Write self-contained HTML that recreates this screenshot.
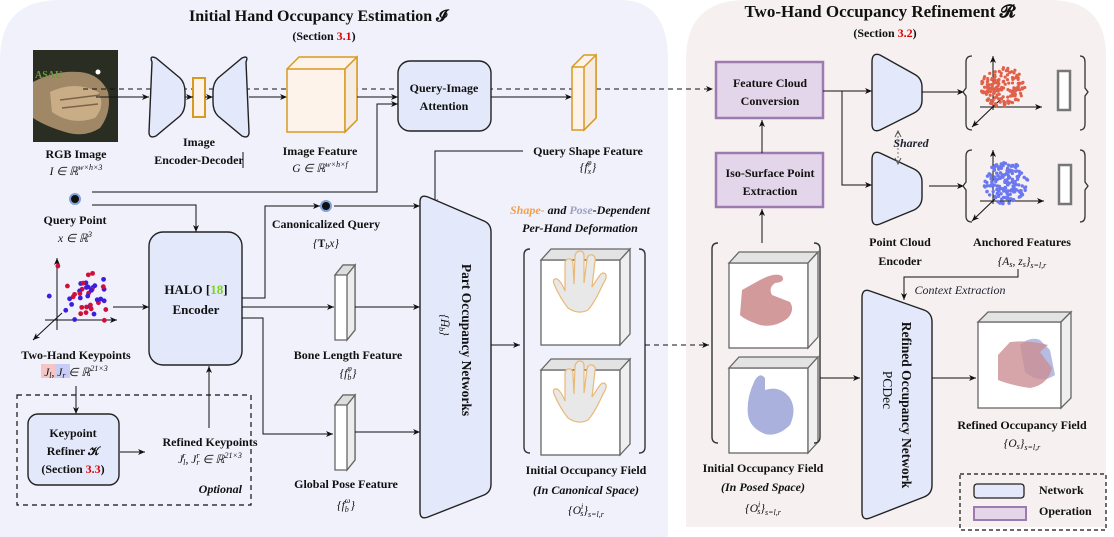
<!DOCTYPE html>
<html><head><meta charset="utf-8"><style>
html,body{margin:0;padding:0;background:#fff}
svg{display:block}
text{font-family:"Liberation Serif",serif;fill:#111}
.b{font-weight:bold;font-size:12px}
.m{font-size:11.5px;font-style:italic}
.it{font-style:italic;font-size:12px}
</style></head><body>
<svg width="1114" height="537" viewBox="0 0 1114 537" xmlns="http://www.w3.org/2000/svg">
<defs>
<marker id="a" markerWidth="8" markerHeight="8" refX="7" refY="4" orient="auto" markerUnits="userSpaceOnUse"><path d="M0,1 L7,4 L0,7 L2,4z" fill="#111"/></marker>
</defs>
<path d="M60,0 H620 Q668,0 668,60 V537 H0 V60 Q0,0 60,0z" fill="#f0f1fb"/>
<path d="M746,0 H1050 Q1106,0 1106,56 V527 H686 V60 Q686,0 746,0z" fill="#f6f0f0"/>

<text x="318" y="21" text-anchor="middle" style="font-weight:bold;font-size:16px">Initial Hand Occupancy Estimation 𝓘</text>
<text x="324" y="40" text-anchor="middle" class="b">(Section <tspan fill="#d00">3.1</tspan>)</text>
<text x="880" y="17" text-anchor="middle" style="font-weight:bold;font-size:17px">Two-Hand Occupancy Refinement 𝓡</text>
<text x="885" y="37" text-anchor="middle" class="b">(Section <tspan fill="#d00">3.2</tspan>)</text>

<!-- RGB image -->
<rect x="33" y="50" width="85" height="92" fill="#2a2d22"/>
<path d="M33,82 Q55,70 80,72 Q100,74 108,92 Q112,112 100,128 Q85,138 65,132 Q45,126 33,118z" fill="#a08866"/>
<path d="M50,92 Q75,80 98,92 Q106,105 95,118 Q72,126 52,112z" fill="#c8ad86"/>
<path d="M60,100 L100,95 M62,108 L98,104" stroke="#7a6448" stroke-width="1.5"/>
<text x="35" y="78" style="font-size:10px;font-weight:bold;fill:#6f9a40">ASAU</text>
<circle cx="98" cy="72" r="2.5" fill="#fff"/>
<text x="76" y="158" text-anchor="middle" class="b">RGB Image</text>
<text x="76" y="175" text-anchor="middle" class="m">I ∈ ℝ<tspan dy="-5" font-size="8">w×h×3</tspan></text>

<line x1="83" y1="89" x2="713" y2="89" stroke="#111" stroke-dasharray="5,4" marker-end="url(#a)"/>
<path d="M152,62 Q149,55 156,58 L180,78 Q185,83 185,92 V102 Q185,111 180,116 L156,136 Q149,139 149,132 z" fill="#e3e9fa" stroke="#222" stroke-width="1.4"/>
<rect x="193" y="78" width="12" height="39" fill="#fdf3ea" stroke="#d99a20" stroke-width="2"/>
<path d="M246,62 Q249,55 242,58 L218,78 Q213,83 213,92 V102 Q213,111 218,116 L242,136 Q249,139 249,132 z" fill="#e3e9fa" stroke="#222" stroke-width="1.4"/>
<line x1="96" y1="97" x2="149" y2="97" stroke="#111" marker-end="url(#a)"/>
<line x1="185" y1="97" x2="193" y2="97" stroke="#111" marker-end="url(#a)"/>
<line x1="205" y1="97" x2="213" y2="97" stroke="#111" marker-end="url(#a)"/>
<line x1="249" y1="97" x2="287" y2="97" stroke="#111" marker-end="url(#a)"/>
<text x="199" y="146" text-anchor="middle" class="b">Image</text>
<text x="199" y="164" text-anchor="middle" class="b">Encoder-Decoder</text>
<line x1="243" y1="152" x2="243" y2="168" stroke="#111"/>
<path d="M287,69 L299,57 H357 V120 L345,132 H287z" fill="#fdf3ea" stroke="#d99a20" stroke-width="1.5"/>
<path d="M287,69 H345 L357,57 M345,69 V132" fill="none" stroke="#d99a20" stroke-width="1.5"/>
<path d="M345,69 L357,57 V120 L345,132z" fill="#f5ebe2" stroke="#d99a20" stroke-width="1.5"/>
<text x="320" y="155" text-anchor="middle" class="b">Image Feature</text>
<text x="320" y="172" text-anchor="middle" class="m">G ∈ ℝ<tspan dy="-5" font-size="8">w×h×f</tspan></text>
<line x1="357" y1="97" x2="398" y2="97" stroke="#111" marker-end="url(#a)"/>
<rect x="398" y="61" width="93" height="70" rx="12" fill="#e3e9fa" stroke="#222" stroke-width="1.4"/>
<text x="444" y="92" text-anchor="middle" class="b">Query-Image</text>
<text x="444" y="110" text-anchor="middle" class="b">Attention</text>
<line x1="491" y1="97" x2="572" y2="97" stroke="#111" marker-end="url(#a)"/>
<path d="M572,67 L584,55 H596 V118 L584,130 H572z" fill="#fdf3ea" stroke="#d99a20" stroke-width="1.5"/>
<path d="M584,67 L596,55 V118 L584,130z M572,67 H584" fill="#f5ebe2" stroke="#d99a20" stroke-width="1.5"/>
<text x="588" y="155" text-anchor="middle" class="b">Query Shape Feature</text>
<text x="588" y="171" text-anchor="middle" class="m">{f<tspan dy="3" font-size="8">x</tspan><tspan dx="-4" dy="-9" font-size="8">φ</tspan><tspan dy="6">}</tspan></text>
<polyline points="523,151 435,151 435,206" fill="none" stroke="#111" marker-end="url(#a)"/>

<circle cx="75" cy="199" r="5" fill="#111" stroke="#7fa3d8" stroke-width="2"/>
<text x="75" y="224" text-anchor="middle" class="b">Query Point</text>
<text x="75" y="242" text-anchor="middle" class="m">x ∈ ℝ<tspan dy="-5" font-size="8">3</tspan></text>
<polyline points="92,192 377,192 377,104 398,104" fill="none" stroke="#111" marker-end="url(#a)"/>
<polyline points="92,205 196,205 196,232" fill="none" stroke="#111" marker-end="url(#a)"/>

<g stroke="#111" fill="none">
<line x1="57" y1="330" x2="57" y2="258" marker-end="url(#a)"/>
<line x1="45" y1="320" x2="117" y2="320" marker-end="url(#a)"/>
<line x1="62" y1="313" x2="33" y2="340" marker-end="url(#a)"/>
</g>
<g id="kp"></g>
<text x="76" y="359" text-anchor="middle" class="b">Two-Hand Keypoints</text>
<rect x="41" y="364" width="14" height="14" fill="#f6c6c6"/>
<rect x="55" y="364" width="15" height="14" fill="#c9cdf5"/>
<text x="76" y="376" text-anchor="middle" class="m">J<tspan font-size="8" dy="2">l</tspan><tspan dy="-2">, J</tspan><tspan font-size="8" dy="2">r</tspan><tspan dy="-2"> ∈ ℝ</tspan><tspan dy="-5" font-size="8">21×3</tspan></text>
<line x1="113" y1="307" x2="149" y2="307" stroke="#111" marker-end="url(#a)"/>

<rect x="149" y="232" width="93" height="133" rx="14" fill="#e3e9fa" stroke="#222" stroke-width="1.4"/>
<text x="196" y="294" text-anchor="middle" style="font-weight:bold;font-size:13px">HALO [<tspan fill="#7cd320">18</tspan>]</text>
<text x="196" y="314" text-anchor="middle" style="font-weight:bold;font-size:13px">Encoder</text>

<rect x="17" y="395" width="234" height="110" fill="none" stroke="#111" stroke-dasharray="5,4" stroke-width="1.2"/>
<line x1="76" y1="386" x2="76" y2="414" stroke="#111" marker-end="url(#a)"/>
<rect x="28" y="414" width="91" height="71" rx="10" fill="#e3e9fa" stroke="#222" stroke-width="1.4"/>
<text x="73" y="437" text-anchor="middle" class="b">Keypoint</text>
<text x="73" y="455" text-anchor="middle" class="b">Refiner 𝒦</text>
<text x="73" y="473" text-anchor="middle" class="b">(Section <tspan fill="#d00">3.3</tspan>)</text>
<line x1="120" y1="452" x2="145" y2="452" stroke="#111" marker-end="url(#a)"/>
<text x="210" y="446" text-anchor="middle" class="b">Refined Keypoints</text>
<text x="210" y="463" text-anchor="middle" class="m">J<tspan font-size="8" dy="2">l</tspan><tspan font-size="8" dx="-3" dy="-7">r</tspan><tspan dy="5">, J</tspan><tspan font-size="8" dy="2">r</tspan><tspan font-size="8" dx="-3" dy="-7">r</tspan><tspan dy="5"> ∈ ℝ</tspan><tspan dy="-5" font-size="8">21×3</tspan></text>
<line x1="209" y1="428" x2="209" y2="366" stroke="#111" marker-end="url(#a)"/>
<text x="242" y="493" text-anchor="end" class="it" style="font-weight:bold">Optional</text>

<polyline points="242,298 265,298 265,206 320,206" fill="none" stroke="#111" marker-end="url(#a)"/>
<circle cx="326" cy="206" r="5" fill="#111" stroke="#7fa3d8" stroke-width="2"/>
<line x1="334" y1="206" x2="420" y2="206" stroke="#111" marker-end="url(#a)"/>
<text x="326" y="228" text-anchor="middle" class="b">Canonicalized Query</text>
<text x="326" y="247" text-anchor="middle" class="m">{<tspan font-weight="bold" font-style="normal">T</tspan><tspan font-size="8" dy="2">b</tspan><tspan dy="-2">x}</tspan></text>
<line x1="242" y1="307" x2="334" y2="307" stroke="#111" marker-end="url(#a)"/>
<g stroke="#666" stroke-width="1.3">
<path d="M335,275 L343,265 H355 V330 L347,340 H335z" fill="#fff"/>
<path d="M347,275 L355,265 V330 L347,340z" fill="#ececec"/>
<path d="M335,275 L343,265 H355 L347,275z" fill="#ddd"/>
</g>
<line x1="355" y1="307" x2="420" y2="307" stroke="#111" marker-end="url(#a)"/>
<text x="348" y="359" text-anchor="middle" class="b">Bone Length Feature</text>
<text x="348" y="377" text-anchor="middle" class="m">{f<tspan font-size="8" dy="3">b</tspan><tspan font-size="8" dx="-4" dy="-9">φ</tspan><tspan dy="6">}</tspan></text>
<polyline points="242,318 263,318 263,434 333,434" fill="none" stroke="#111" marker-end="url(#a)"/>
<g stroke="#666" stroke-width="1.3">
<path d="M335,405 L343,395 H355 V460 L347,470 H335z" fill="#fff"/>
<path d="M347,405 L355,395 V460 L347,470z" fill="#ececec"/>
<path d="M335,405 L343,395 H355 L347,405z" fill="#ddd"/>
</g>
<line x1="355" y1="432" x2="420" y2="432" stroke="#111" marker-end="url(#a)"/>
<text x="346" y="488" text-anchor="middle" class="b">Global Pose Feature</text>
<text x="346" y="509" text-anchor="middle" class="m">{f<tspan font-size="8" dy="3">b</tspan><tspan font-size="8" dx="-4" dy="-9">ω</tspan><tspan dy="6">}</tspan></text>

<path d="M428,197 Q420,194 420,202 V512 Q420,520 428,517 L484,495 Q491,492 491,484 V232 Q491,224 484,221z" fill="#e3e9fa" stroke="#222" stroke-width="1.4"/>
<text transform="translate(462,340) rotate(90)" text-anchor="middle" style="font-weight:bold;font-size:13.5px">Part Occupancy Networks</text>
<text transform="translate(441,325) rotate(90)" text-anchor="middle" class="m">{H̄<tspan font-size="8" dy="2">b</tspan><tspan dy="-2">}</tspan></text>
<line x1="491" y1="345" x2="520" y2="345" stroke="#111" marker-end="url(#a)"/>

<text x="580" y="214" text-anchor="middle" class="it" style="font-weight:bold"><tspan fill="#f0a050">Shape-</tspan> and <tspan fill="#9aa0c0">Pose</tspan>-Dependent</text>
<text x="580" y="232" text-anchor="middle" class="it" style="font-weight:bold">Per-Hand Deformation</text>
<path d="M530,249 Q524,249 524,255 V447 Q524,453 530,453" fill="none" stroke="#333" stroke-width="1.4"/>
<path d="M639,249 Q645,249 645,255 V447 Q645,453 639,453" fill="none" stroke="#333" stroke-width="1.4"/>
<g id="cubesC"></g>
<line x1="645" y1="345" x2="709" y2="345" stroke="#111" stroke-dasharray="5,4" marker-end="url(#a)"/>
<text x="586" y="474" text-anchor="middle" class="b">Initial Occupancy Field</text>
<text x="586" y="494" text-anchor="middle" class="it" style="font-weight:bold">(In Canonical Space)</text>
<text x="586" y="514" text-anchor="middle" class="m">{O<tspan font-size="8" dy="-5">i</tspan><tspan font-size="8" dx="-3" dy="7">s</tspan><tspan dy="-2">}</tspan><tspan font-size="8" dy="3">s=l,r</tspan></text>

<rect x="716" y="62" width="107" height="56" fill="#e4d6ea" stroke="#9b7bb0" stroke-width="2.5"/>
<text x="770" y="87" text-anchor="middle" class="b">Feature Cloud</text>
<text x="770" y="105" text-anchor="middle" class="b">Conversion</text>
<rect x="716" y="153" width="107" height="54" fill="#e4d6ea" stroke="#9b7bb0" stroke-width="2.5"/>
<text x="770" y="177" text-anchor="middle" class="b">Iso-Surface Point</text>
<text x="770" y="195" text-anchor="middle" class="b">Extraction</text>
<line x1="762" y1="153" x2="762" y2="120" stroke="#111" marker-end="url(#a)"/>
<line x1="762" y1="243" x2="762" y2="209" stroke="#111" marker-end="url(#a)"/>
<path d="M718,243 Q712,243 712,249 V437 Q712,443 718,443" fill="none" stroke="#333" stroke-width="1.4"/>
<path d="M814,243 Q820,243 820,249 V437 Q820,443 814,443" fill="none" stroke="#333" stroke-width="1.4"/>
<text x="763" y="472" text-anchor="middle" class="b">Initial Occupancy Field</text>
<text x="763" y="491" text-anchor="middle" class="it" style="font-weight:bold">(In Posed Space)</text>
<text x="763" y="512" text-anchor="middle" class="m">{O<tspan font-size="8" dy="-5">i</tspan><tspan font-size="8" dx="-3" dy="7">s</tspan><tspan dy="-2">}</tspan><tspan font-size="8" dy="3">s=l,r</tspan></text>

<polyline points="823,91 846,91" fill="none" stroke="#111"/>
<line x1="842" y1="91" x2="872" y2="91" stroke="#111" marker-end="url(#a)"/>
<polyline points="842,91 842,185 872,185" fill="none" stroke="#111" marker-end="url(#a)"/>
<path d="M880,55 Q872,52 872,62 V124 Q872,133 880,130 L914,113 Q922,109 922,100 V87 Q922,78 914,74z" fill="#e3e9fa" stroke="#222" stroke-width="1.4"/>
<path d="M880,153 Q872,150 872,160 V218 Q872,227 880,224 L914,210 Q922,206 922,197 V182 Q922,173 914,169z" fill="#e3e9fa" stroke="#222" stroke-width="1.4"/>
<line x1="898" y1="132" x2="898" y2="163" stroke="#777" stroke-dasharray="2,2"/>
<path d="M895,137 L898,131 L901,137 M895,158 L898,164 L901,158" fill="none" stroke="#555"/>
<text x="911" y="147" text-anchor="middle" class="it" style="fill:#223;font-weight:bold">Shared</text>
<text x="900" y="246" text-anchor="middle" class="b">Point Cloud</text>
<text x="900" y="265" text-anchor="middle" class="b">Encoder</text>
<line x1="922" y1="92" x2="964" y2="92" stroke="#111" marker-end="url(#a)"/>
<line x1="929" y1="186" x2="964" y2="186" stroke="#111" marker-end="url(#a)"/>
<g fill="none" stroke="#333" stroke-width="1.3">
<path d="M972,56 Q966,56 966,62 V88 L963,92 L966,96 V124 Q966,130 972,130"/>
<path d="M1080,56 Q1085,56 1085,62 V88 L1088,92 L1085,96 V124 Q1085,130 1080,130"/>
<path d="M972,150 Q966,150 966,156 V182 L963,186 L966,190 V216 Q966,222 972,222"/>
<path d="M1080,150 Q1085,150 1085,156 V182 L1088,186 L1085,190 V216 Q1085,222 1080,222"/>
</g>
<g stroke="#111" fill="none">
<line x1="993" y1="110" x2="993" y2="56" marker-end="url(#a)"/>
<line x1="980" y1="107" x2="1042" y2="107" marker-end="url(#a)"/>
<line x1="1000" y1="100" x2="972" y2="127" marker-end="url(#a)"/>
<line x1="993" y1="204" x2="993" y2="150" marker-end="url(#a)"/>
<line x1="980" y1="201" x2="1044" y2="201" marker-end="url(#a)"/>
<line x1="1000" y1="194" x2="972" y2="221" marker-end="url(#a)"/>
</g>
<g id="pc"></g>
<rect x="1058" y="71" width="12" height="39" fill="#fff" stroke="#777" stroke-width="2.5"/>
<rect x="1059" y="165" width="12" height="39" fill="#fff" stroke="#777" stroke-width="2.5"/>
<text x="1022" y="246" text-anchor="middle" class="b">Anchored Features</text>
<text x="1022" y="265" text-anchor="middle" class="m">{A<tspan font-size="8" dy="2">s</tspan><tspan dy="-2">, z</tspan><tspan font-size="8" dy="2">s</tspan><tspan dy="-2">}</tspan><tspan font-size="8" dy="3">s=l,r</tspan></text>
<polyline points="1018,269 1018,277 904,277 904,300" fill="none" stroke="#111" marker-end="url(#a)"/>
<text x="960" y="294" text-anchor="middle" class="it" style="fill:#223">Context Extraction</text>

<path d="M870,291 Q862,288 862,298 V512 Q862,521 870,518 L924,497 Q932,494 932,485 V322 Q932,313 924,310z" fill="#e3e9fa" stroke="#222" stroke-width="1.4"/>
<text transform="translate(902,405) rotate(90)" text-anchor="middle" style="font-weight:bold;font-size:13.5px">Refined Occupancy Network</text>
<text transform="translate(883,390) rotate(90)" text-anchor="middle" style="font-size:13.5px">PCDec</text>
<line x1="820" y1="378" x2="860" y2="378" stroke="#111" marker-end="url(#a)"/>
<line x1="932" y1="378" x2="976" y2="378" stroke="#111" marker-end="url(#a)"/>
<g stroke="#666" stroke-width="1.3">
<rect x="978" y="322" width="83" height="86" fill="#fff"/>
<path d="M978,322 L988,312 H1071 L1061,322z" fill="#e3e3e3"/>
<path d="M1061,322 L1071,312 V398 L1061,408z" fill="#efefef"/>
</g>
<path d="M1020,345 Q1030,336 1040,340 L1050,350 L1055,375 Q1040,385 1025,372z" fill="#a9b2dd" opacity="0.85"/>
<path d="M998,355 L1010,342 Q1030,340 1048,345 L1040,352 L1052,368 Q1048,385 1030,388 Q1010,385 998,380z" fill="#cc8e93" opacity="0.8"/>
<text x="1022" y="429" text-anchor="middle" class="b">Refined Occupancy Field</text>
<text x="1022" y="447" text-anchor="middle" class="m">{O<tspan font-size="8" dy="2">s</tspan><tspan dy="-2">}</tspan><tspan font-size="8" dy="3">s=l,r</tspan></text>

<rect x="960" y="474" width="146" height="56" fill="none" stroke="#111" stroke-dasharray="4,3" stroke-width="1.2"/>
<rect x="974" y="484" width="50" height="14" rx="3" fill="#e3e9fa" stroke="#222" stroke-width="1.3"/>
<rect x="974" y="507" width="52" height="13" fill="#e4d6ea" stroke="#9b7bb0" stroke-width="2"/>
<text x="1039" y="494" class="b">Network</text>
<text x="1039" y="515" class="b">Operation</text>
</svg>
<script>
var NS="http://www.w3.org/2000/svg";
function el(p,t,a){var e=document.createElementNS(NS,t);for(var k in a)e.setAttribute(k,a[k]);p.appendChild(e);return e;}
var s=7;function r(){s=(s*9301+49297)%233280;return s/233280;}
var kp=document.getElementById('kp');
for(var i=0;i<44;i++){var x,y;if(r()<0.35){x=48+r()*60;y=266+r()*56;}else{x=78+r()*30;y=282+r()*32;}
el(kp,'circle',{cx:x,cy:y,r:2.4,fill:i%2?'#d0103a':'#3a1ee0'});}
var pc=document.getElementById('pc');
for(var i=0;i<160;i++){var a=r()*6.28,d=Math.sqrt(r());el(pc,'circle',{cx:1003+Math.cos(a)*d*22,cy:87+Math.sin(a)*d*20,r:1.6,fill:'#e0604a'});}
for(var i=0;i<160;i++){var a=r()*6.28,d=Math.sqrt(r());el(pc,'circle',{cx:1006+Math.cos(a)*d*22,cy:183+Math.sin(a)*d*21,r:1.7,fill:'#6b78f0'});}
function cube(x,y,w,h){var g=document.getElementById('cubesC');
el(g,'rect',{x:x,y:y,width:w,height:h,fill:'#fff',stroke:'#666','stroke-width':1.3});
el(g,'path',{d:'M'+x+','+y+' l10,-11 h'+w+' l-10,11z',fill:'#e3e3e3',stroke:'#666','stroke-width':1.3});
el(g,'path',{d:'M'+(x+w)+','+y+' l10,-11 v'+h+' l-10,11z',fill:'#efefef',stroke:'#666','stroke-width':1.3});return g;}
var g=cube(541,260,79,85);cube(541,370,79,85);cube(729,263,79,85);cube(729,368,79,85);
function hand(ox,oy){el(g,'path',{d:'M'+ox+','+oy+' m-12,38 q-8,-10 -14,-24 q-2,-6 3,-5 q4,2 8,12 l0,-28 q1,-5 5,-4 q3,1 3,5 l1,20 l1,-28 q1,-5 5,-5 q4,0 4,5 l0,27 l3,-24 q1,-5 5,-4 q4,1 3,6 l-3,26 l8,-12 q4,-4 6,0 q1,3 -3,9 q-8,18 -15,26 q-10,5 -20,-2z',fill:'#e8e8e8',stroke:'#e9b978','stroke-width':1.2});}
hand(580,270);hand(580,380);
el(g,'path',{d:'M742,290 L760,280 Q775,272 782,276 Q786,282 775,283 Q768,288 772,295 L790,302 Q795,310 788,318 Q775,328 760,325 Q745,320 740,315z',fill:'#d39a9c'});
el(g,'path',{d:'M755,380 Q760,372 765,378 L765,390 Q780,385 790,398 Q797,410 790,425 Q778,437 765,434 Q750,428 748,415 Q746,398 755,380z',fill:'#a9b1dc'});
</script>
</body></html>
